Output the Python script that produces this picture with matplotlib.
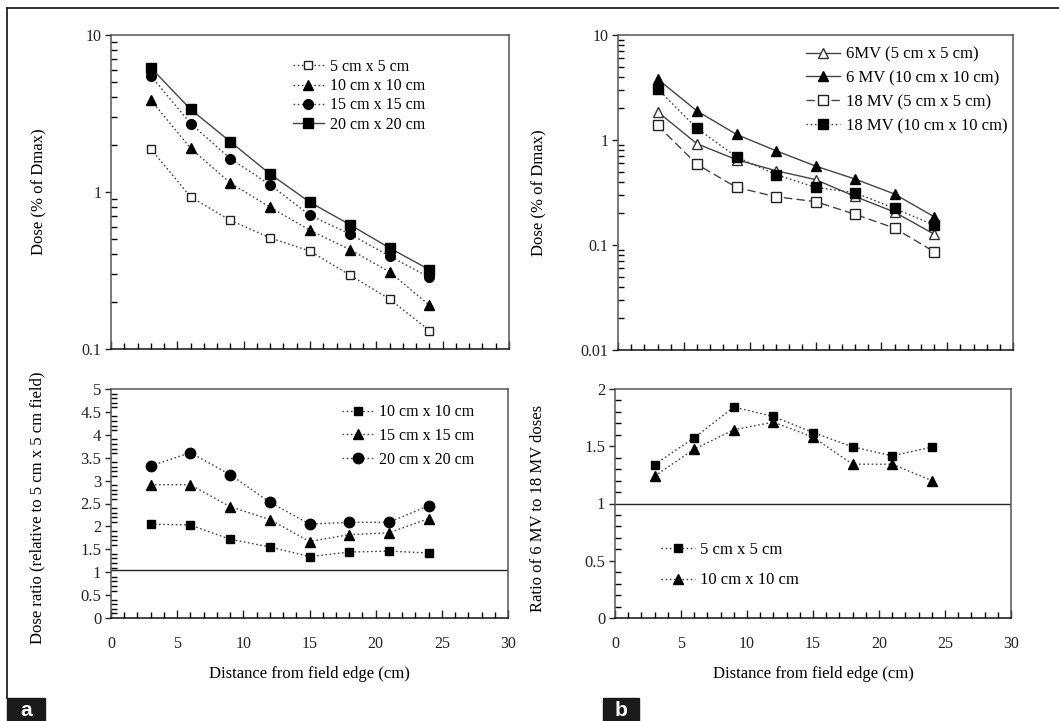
import matplotlib
matplotlib.use('Agg')
import matplotlib.pyplot as plt
import matplotlib.ticker as ticker
from matplotlib.lines import Line2D

plt.rcParams['font.family'] = ['Liberation Serif', 'DejaVu Serif']
plt.rcParams['font.size'] = 11

# distance from field edge (cm)
dist = [3, 6, 9, 12, 15, 18, 21, 24]

# panel a, top: dose (% of Dmax) by field size
dose_5 = [1.88, 0.93, 0.66, 0.51, 0.42, 0.296, 0.208, 0.131]
dose_10 = [3.85, 1.90, 1.14, 0.80, 0.57, 0.43, 0.31, 0.19]
dose_15 = [5.5, 2.73, 1.63, 1.11, 0.71, 0.54, 0.39, 0.286]
dose_20 = [6.2, 3.36, 2.09, 1.30, 0.86, 0.62, 0.44, 0.32]

# panel a, bottom: dose ratio relative to 5 cm x 5 cm field
ratio_10 = [2.05, 2.03, 1.72, 1.55, 1.34, 1.44, 1.46, 1.42]
ratio_15 = [2.91, 2.91, 2.43, 2.15, 1.67, 1.82, 1.86, 2.17]
ratio_20 = [3.32, 3.61, 3.13, 2.53, 2.05, 2.09, 2.09, 2.45]
ref_a = 1.04

# panel b, top: 6 MV and 18 MV doses
mv6_5 = [1.86, 0.92, 0.65, 0.51, 0.42, 0.29, 0.206, 0.127]
mv6_10 = [3.81, 1.89, 1.13, 0.79, 0.565, 0.425, 0.306, 0.186]
mv18_5 = [1.38, 0.586, 0.354, 0.288, 0.259, 0.196, 0.145, 0.0865]
mv18_10 = [3.08, 1.29, 0.69, 0.468, 0.354, 0.315, 0.223, 0.155]

# panel b, bottom: ratio of 6 MV to 18 MV doses
mvratio_5 = [1.34, 1.574, 1.842, 1.76, 1.62, 1.495, 1.416, 1.492]
mvratio_10 = [1.24, 1.474, 1.644, 1.711, 1.58, 1.343, 1.343, 1.20]
ref_b = 1.0

W, H = 1059, 721
fig = plt.figure(figsize=(W / 100, H / 100), dpi=100)


def rect(l, t, r, b):
    return [l / W, 1 - b / H, (r - l) / W, (b - t) / H]


def style(ax, log=False):
    ax.set_xlim(0, 30)
    ax.xaxis.set_major_locator(ticker.MultipleLocator(5))
    ax.xaxis.set_minor_locator(ticker.MultipleLocator(1))
    ax.tick_params(axis='x', which='major', direction='in', length=6, width=1, pad=13)
    ax.tick_params(axis='x', which='minor', direction='in', length=4, width=1)
    ax.tick_params(axis='y', which='major', direction='out', length=4, width=1, pad=3)
    ax.tick_params(axis='y', which='minor', direction='in', length=4, width=1)
    ax.tick_params(labelsize=11.5, colors='#222')
    for s in ax.spines.values():
        s.set_color('#555')
        s.set_linewidth(1.1)
    ax.spines['bottom'].set_color('#111')
    if log:
        ax.set_yscale('log')
        ax.yaxis.set_major_formatter(ticker.FuncFormatter(lambda v, p: f'{v:g}'))
        ax.yaxis.set_minor_formatter(ticker.NullFormatter())
    else:
        ax.yaxis.set_major_locator(ticker.MultipleLocator(0.5))
        ax.yaxis.set_minor_locator(ticker.MultipleLocator(0.1))
        ax.yaxis.set_major_formatter(ticker.FuncFormatter(lambda v, p: f'{v:g}'))
        ax.tick_params(axis='y', labelsize=12)


lc = '#444'
dot = (0, (1.2, 1.8))
leg = dict(loc='upper left', frameon=False, handlelength=2.0, handletextpad=0.35, borderaxespad=0)

# ---- panel a top
ax1 = fig.add_axes(rect(111, 35, 509, 349))
style(ax1, log=True)
ax1.set_ylim(0.1, 10)
ax1.plot(dist, dose_5, color=lc, lw=1, ls=dot, marker='s', ms=6, mfc='white', mec='#222', mew=1, label='5 cm x 5 cm')
ax1.plot(dist, dose_10, color=lc, lw=1, ls=dot, marker='^', ms=7, mfc='black', mec='black', label='10 cm x 10 cm')
ax1.plot(dist, dose_15, color=lc, lw=1, ls=dot, marker='o', ms=7, mfc='black', mec='black', label='15 cm x 15 cm')
ax1.plot(dist, dose_20, color=lc, lw=1, ls='-', marker='s', ms=7, mfc='black', mec='black', label='20 cm x 20 cm')
ax1.set_xticklabels([])
ax1.set_ylabel('Dose (% of Dmax)', fontsize=12)
ax1.yaxis.set_label_coords(-0.16, 0.5)
ax1.legend(bbox_to_anchor=(0.44, 0.944), fontsize=11.5, labelspacing=0.2, **leg)

# ---- panel a bottom
ax2 = fig.add_axes(rect(111, 389, 508, 618))
style(ax2)
ax2.set_ylim(0, 5)
ax2.axhline(ref_a, color='#222', lw=1)
ax2.plot(dist, ratio_10, color=lc, lw=1, ls=dot, marker='s', ms=5.5, mfc='black', mec='black', label='10 cm x 10 cm')
ax2.plot(dist, ratio_15, color=lc, lw=1, ls=dot, marker='^', ms=7, mfc='black', mec='black', label='15 cm x 15 cm')
ax2.plot(dist, ratio_20, color=lc, lw=1, ls=dot, marker='o', ms=7.5, mfc='black', mec='black', label='20 cm x 20 cm')
ax2.set_ylabel('Dose ratio (relative to 5 cm x 5 cm field)', fontsize=12)
ax2.yaxis.set_label_coords(-0.165, 0.48)
ax2.set_xlabel('Distance from field edge (cm)', fontsize=12, labelpad=10)
ax2.legend(bbox_to_anchor=(0.565, 0.962), fontsize=11.5, labelspacing=0.5, **leg)

# ---- panel b top
ax3 = fig.add_axes(rect(618, 35, 1013, 350))
style(ax3, log=True)
ax3.set_ylim(0.01, 10)
ax3.plot(dist, mv6_5, color=lc, lw=1, ls='-', marker='^', ms=7, mfc='white', mec='#333', mew=1, label='6MV (5 cm x 5 cm)')
ax3.plot(dist, mv6_10, color=lc, lw=1, ls='-', marker='^', ms=7, mfc='black', mec='black', label='6 MV (10 cm x 10 cm)')
ax3.plot(dist, mv18_5, color=lc, lw=1, ls=(0, (6, 3)), marker='s', ms=7, mfc='white', mec='#222', mew=1, label='18 MV (5 cm x 5 cm)')
ax3.plot(dist, mv18_10, color=lc, lw=1, ls=dot, marker='s', ms=7, mfc='black', mec='black', label='18 MV (10 cm x 10 cm)')
ax3.set_xticklabels([])
ax3.set_ylabel('Dose (% of Dmax)', fontsize=12)
ax3.yaxis.set_label_coords(-0.18, 0.5)
ax3.legend(bbox_to_anchor=(0.46, 0.985), fontsize=12, labelspacing=0.47, **leg)

# ---- panel b bottom
ax4 = fig.add_axes(rect(615, 389, 1011, 618))
style(ax4)
ax4.set_ylim(0, 2)
ax4.axhline(ref_b, color='#222', lw=1)
ax4.plot(dist, mvratio_5, color=lc, lw=1, ls=dot, marker='s', ms=5.5, mfc='black', mec='black', label='5 cm x 5 cm')
ax4.plot(dist, mvratio_10, color=lc, lw=1, ls=dot, marker='^', ms=7, mfc='black', mec='black', label='10 cm x 10 cm')
ax4.set_ylabel('Ratio of 6 MV to 18 MV doses', fontsize=12)
ax4.yaxis.set_label_coords(-0.174, 0.48)
ax4.set_xlabel('Distance from field edge (cm)', fontsize=12, labelpad=10)
ax4.legend(bbox_to_anchor=(0.1, 0.36), fontsize=12, labelspacing=0.85, **leg)

# ---- outer frame and panel tags
fig.add_artist(Line2D([7 / W, 1], [1 - 8 / H, 1 - 8 / H], color='#222', lw=1.3))
fig.add_artist(Line2D([7 / W, 7 / W], [1 - 8 / H, 1 - 698 / H], color='#222', lw=1.3))
for x0, x1, tag in [(7, 45, 'a'), (603, 639, 'b')]:
    fig.patches.append(plt.Rectangle((x0 / W, 0), (x1 - x0) / W, 23 / H, transform=fig.transFigure,
                                     color='#1a1a1a', zorder=5))
    fig.text((x0 + x1) / 2 / W, 11 / H, tag, color='white', fontsize=15, fontweight='bold',
             family='Liberation Sans', ha='center', va='center', zorder=6)

fig.savefig('out.png', dpi=100)
